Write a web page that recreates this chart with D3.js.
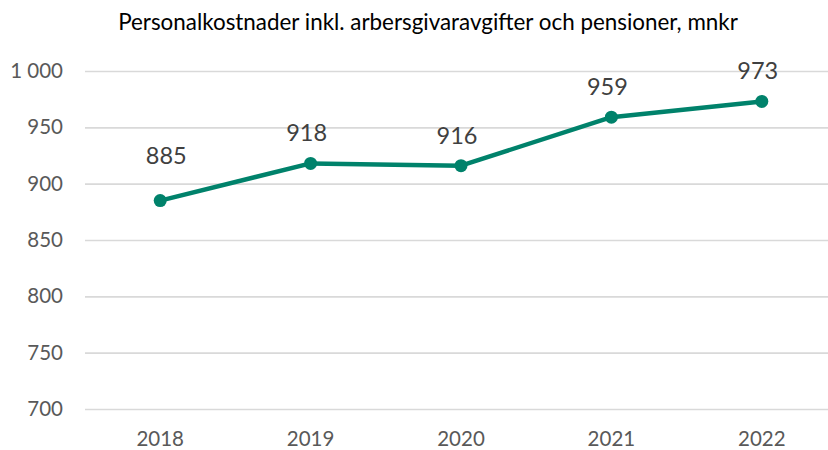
<!DOCTYPE html>
<html><head><meta charset="utf-8">
<script src="https://cdn.jsdelivr.net/npm/d3@7"></script>
<style>body{margin:0;background:#fff}svg{display:block}</style>
</head><body>
<svg id="c" width="828" height="450"></svg>
<script>
const title = "Personalkostnader inkl. arbersgivaravgifter och pensioner, mnkr";
const years = ["2018","2019","2020","2021","2022"];
const values = [885, 918, 916, 959, 973];
const yTicks = [700, 750, 800, 850, 900, 950, 1000];

const svg = d3.select("#c");
const font = "Lato, 'Open Sans', sans-serif";
const x = d3.scaleBand().domain(years).range([85, 837]);
const y = d3.scaleLinear().domain([700, 1000]).range([409, 71]);

svg.append("text").attr("x", 428).attr("y", 30).attr("text-anchor", "middle")
  .attr("font-family", font).attr("font-size", 22.4).attr("fill", "#000").text(title);

const fmt = v => v >= 1000 ? d3.format(",")(v).replace(",", " ") : String(v);
const yAxis = d3.axisLeft(y).tickValues(yTicks).tickSize(-(837-85)).tickFormat(fmt);
const gy = svg.append("g").attr("transform", "translate(85,0)").call(yAxis);
gy.select(".domain").remove();
gy.selectAll(".tick line").attr("stroke", "#d9d9d9").attr("stroke-width", 1.6);
gy.selectAll(".tick text").attr("x", -22).attr("font-family", font).attr("font-size", 20.5).attr("fill", "#595959");

const xAxis = d3.axisBottom(x).tickSize(0);
const gx = svg.append("g").attr("transform", "translate(0,409)").call(xAxis);
gx.select(".domain").remove();
gx.selectAll(".tick text").attr("dy", 0).attr("y", 37).attr("font-family", font).attr("font-size", 20.5).attr("fill", "#595959");

const cx = d => x(d) + x.bandwidth()/2;
const data = years.map((d,i) => ({year: d, value: values[i]}));
svg.append("path").datum(data)
  .attr("d", d3.line().x(d => cx(d.year)).y(d => y(d.value)))
  .attr("fill", "none").attr("stroke", "#00826b").attr("stroke-width", 4.5).attr("stroke-linejoin", "round");
svg.selectAll("circle.pt").data(data).join("circle").attr("class","pt")
  .attr("cx", d => cx(d.year)).attr("cy", d => y(d.value)).attr("r", 6.5).attr("fill", "#00826b");
// label placement as in the original (first label sits higher and slightly right)
const labelDy = d => d.year === "2018" ? -37 : -22;
const labelDx = d => d.year === "2018" ? 6 : -4;
svg.selectAll("text.lbl").data(data).join("text").attr("class","lbl")
  .attr("x", d => cx(d.year) + labelDx(d)).attr("y", d => y(d.value) + labelDy(d))
  .attr("text-anchor", "middle").attr("font-family", font).attr("font-size", 23.5).attr("fill", "#404040")
  .text(d => d.value);
</script>
</body></html>
